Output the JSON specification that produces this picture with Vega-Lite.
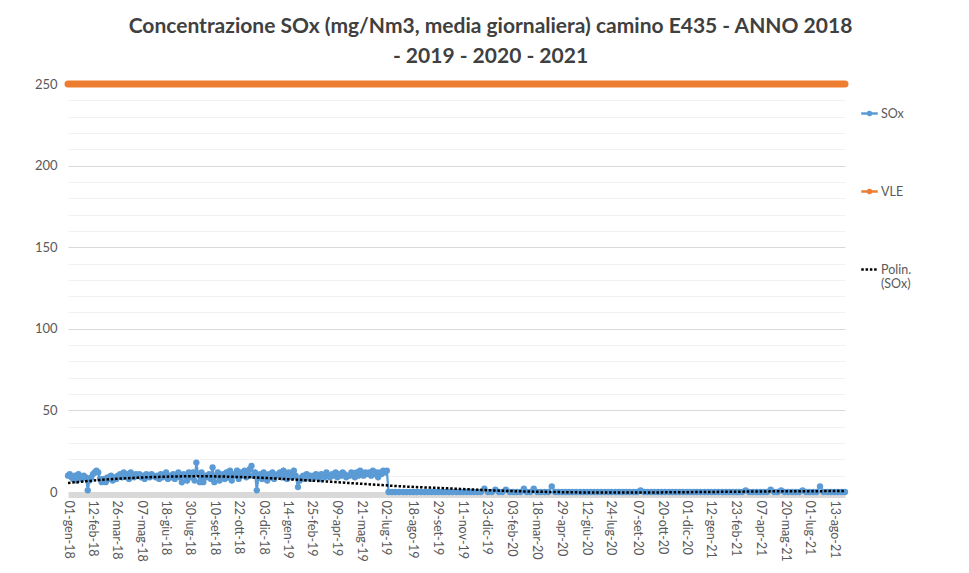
{
  "$schema": "https://vega.github.io/schema/vega-lite/v6.json",
  "width": 777,
  "height": 408,
  "autosize": {"type": "none"},
  "padding": {"left": 68, "top": 84, "right": 124, "bottom": 81},
  "background": "white",
  "title": {
    "text": ["Concentrazione SOx (mg/Nm3, media giornaliera) camino E435 - ANNO 2018", "- 2019 - 2020 - 2021"],
    "font": "Lato", "fontSize": 21, "fontWeight": "bold", "color": "#404040",
    "anchor": "middle", "offset": 3, "lineHeight": 30, "dx": 34
  },
  "config": {"view": {"stroke": null}},
  "datasets": {
    "vle": [{"d": "2018-01-01", "v": 250}, {"d": "2021-08-31", "v": 250}],
    "trend": [
      {"d": "2018-01-01", "v": 5.5}, {"d": "2018-02-01", "v": 6.6}, {"d": "2018-03-01", "v": 7.5}, {"d": "2018-04-01", "v": 8.2},
      {"d": "2018-05-01", "v": 8.8}, {"d": "2018-06-01", "v": 9.2}, {"d": "2018-07-01", "v": 9.5}, {"d": "2018-08-01", "v": 9.6},
      {"d": "2018-09-01", "v": 9.6}, {"d": "2018-10-01", "v": 9.4}, {"d": "2018-11-01", "v": 9.1}, {"d": "2018-12-01", "v": 8.7},
      {"d": "2019-01-01", "v": 8.1}, {"d": "2019-02-01", "v": 7.5}, {"d": "2019-03-01", "v": 6.9}, {"d": "2019-04-01", "v": 6.2},
      {"d": "2019-05-01", "v": 5.5}, {"d": "2019-06-01", "v": 4.8}, {"d": "2019-07-01", "v": 4.1}, {"d": "2019-08-01", "v": 3.4},
      {"d": "2019-09-01", "v": 2.9}, {"d": "2019-10-01", "v": 2.5}, {"d": "2019-11-01", "v": 2.0}, {"d": "2019-12-01", "v": 1.5},
      {"d": "2020-01-01", "v": 1.0}, {"d": "2020-02-01", "v": 0.6}, {"d": "2020-03-01", "v": 0.3}, {"d": "2020-04-01", "v": 0.1},
      {"d": "2020-05-01", "v": -0.1}, {"d": "2020-07-01", "v": -0.3}, {"d": "2020-09-01", "v": -0.3}, {"d": "2020-11-01", "v": -0.2},
      {"d": "2021-01-01", "v": 0.0}, {"d": "2021-03-01", "v": 0.2}, {"d": "2021-05-01", "v": 0.4}, {"d": "2021-07-01", "v": 0.5},
      {"d": "2021-08-31", "v": 0.6}
    ],
    "sox": [
      {"d":"2018-01-01","v":10},{"d":"2018-01-04","v":11},{"d":"2018-01-07","v":9},{"d":"2018-01-10","v":8},{"d":"2018-01-13","v":10},{"d":"2018-01-16","v":7},{"d":"2018-01-19","v":11},{"d":"2018-01-22","v":9},{"d":"2018-01-25","v":8},{"d":"2018-01-28","v":10},
      {"d":"2018-02-01","v":9},{"d":"2018-02-04","v":1},{"d":"2018-02-07","v":7},{"d":"2018-02-10","v":9},{"d":"2018-02-13","v":11},{"d":"2018-02-16","v":12},{"d":"2018-02-19","v":13},{"d":"2018-02-22","v":12},{"d":"2018-02-25","v":8},{"d":"2018-02-28","v":6},
      {"d":"2018-03-01","v":7},{"d":"2018-03-04","v":8},{"d":"2018-03-07","v":6},{"d":"2018-03-10","v":9},{"d":"2018-03-13","v":8},{"d":"2018-03-16","v":10},{"d":"2018-03-19","v":7},{"d":"2018-03-22","v":9},{"d":"2018-03-25","v":8},{"d":"2018-03-28","v":10},
      {"d":"2018-04-01","v":11},{"d":"2018-04-04","v":9},{"d":"2018-04-07","v":12},{"d":"2018-04-10","v":10},{"d":"2018-04-13","v":11},{"d":"2018-04-16","v":8},{"d":"2018-04-19","v":12},{"d":"2018-04-22","v":10},{"d":"2018-04-25","v":9},{"d":"2018-04-28","v":11},
      {"d":"2018-05-01","v":10},{"d":"2018-05-04","v":11},{"d":"2018-05-07","v":9},{"d":"2018-05-10","v":10},{"d":"2018-05-13","v":8},{"d":"2018-05-16","v":11},{"d":"2018-05-19","v":10},{"d":"2018-05-22","v":9},{"d":"2018-05-25","v":11},{"d":"2018-05-28","v":10},
      {"d":"2018-06-01","v":9},{"d":"2018-06-04","v":10},{"d":"2018-06-07","v":8},{"d":"2018-06-10","v":11},{"d":"2018-06-13","v":9},{"d":"2018-06-16","v":10},{"d":"2018-06-19","v":12},{"d":"2018-06-22","v":8},{"d":"2018-06-25","v":10},{"d":"2018-06-28","v":9},
      {"d":"2018-07-01","v":11},{"d":"2018-07-04","v":8},{"d":"2018-07-07","v":10},{"d":"2018-07-10","v":12},{"d":"2018-07-13","v":9},{"d":"2018-07-16","v":6},{"d":"2018-07-19","v":11},{"d":"2018-07-22","v":10},{"d":"2018-07-25","v":7},{"d":"2018-07-28","v":12},
      {"d":"2018-08-01","v":9},{"d":"2018-08-04","v":12},{"d":"2018-08-07","v":7},{"d":"2018-08-10","v":18},{"d":"2018-08-13","v":11},{"d":"2018-08-16","v":6},{"d":"2018-08-19","v":12},{"d":"2018-08-22","v":6},{"d":"2018-08-25","v":10},{"d":"2018-08-28","v":9},
      {"d":"2018-09-01","v":11},{"d":"2018-09-04","v":8},{"d":"2018-09-07","v":15},{"d":"2018-09-10","v":6},{"d":"2018-09-13","v":10},{"d":"2018-09-16","v":12},{"d":"2018-09-19","v":7},{"d":"2018-09-22","v":9},{"d":"2018-09-25","v":11},{"d":"2018-09-28","v":8},
      {"d":"2018-10-01","v":12},{"d":"2018-10-04","v":9},{"d":"2018-10-07","v":13},{"d":"2018-10-10","v":7},{"d":"2018-10-13","v":11},{"d":"2018-10-16","v":10},{"d":"2018-10-19","v":13},{"d":"2018-10-22","v":8},{"d":"2018-10-25","v":12},{"d":"2018-10-28","v":10},
      {"d":"2018-11-01","v":13},{"d":"2018-11-04","v":9},{"d":"2018-11-07","v":11},{"d":"2018-11-10","v":14},{"d":"2018-11-13","v":16},{"d":"2018-11-16","v":10},{"d":"2018-11-19","v":12},{"d":"2018-11-22","v":1},{"d":"2018-11-25","v":9},{"d":"2018-11-28","v":11},
      {"d":"2018-12-01","v":8},{"d":"2018-12-04","v":12},{"d":"2018-12-07","v":10},{"d":"2018-12-10","v":7},{"d":"2018-12-13","v":11},{"d":"2018-12-16","v":9},{"d":"2018-12-19","v":12},{"d":"2018-12-22","v":8},{"d":"2018-12-25","v":10},{"d":"2018-12-28","v":11},
      {"d":"2019-01-01","v":12},{"d":"2019-01-04","v":9},{"d":"2019-01-07","v":13},{"d":"2019-01-10","v":10},{"d":"2019-01-13","v":8},{"d":"2019-01-16","v":12},{"d":"2019-01-19","v":11},{"d":"2019-01-22","v":9},{"d":"2019-01-25","v":13},{"d":"2019-01-28","v":10},
      {"d":"2019-02-01","v":3},{"d":"2019-02-04","v":7},{"d":"2019-02-07","v":9},{"d":"2019-02-10","v":10},{"d":"2019-02-13","v":8},{"d":"2019-02-16","v":11},{"d":"2019-02-19","v":9},{"d":"2019-02-22","v":10},{"d":"2019-02-25","v":8},{"d":"2019-02-28","v":10},
      {"d":"2019-03-01","v":9},{"d":"2019-03-04","v":11},{"d":"2019-03-07","v":10},{"d":"2019-03-10","v":8},{"d":"2019-03-13","v":11},{"d":"2019-03-16","v":10},{"d":"2019-03-19","v":9},{"d":"2019-03-22","v":12},{"d":"2019-03-25","v":10},{"d":"2019-03-28","v":9},
      {"d":"2019-04-01","v":11},{"d":"2019-04-04","v":10},{"d":"2019-04-07","v":12},{"d":"2019-04-10","v":9},{"d":"2019-04-13","v":11},{"d":"2019-04-16","v":10},{"d":"2019-04-19","v":12},{"d":"2019-04-22","v":11},{"d":"2019-04-25","v":9},{"d":"2019-04-28","v":10},
      {"d":"2019-05-01","v":10},{"d":"2019-05-04","v":12},{"d":"2019-05-07","v":11},{"d":"2019-05-10","v":9},{"d":"2019-05-13","v":12},{"d":"2019-05-16","v":10},{"d":"2019-05-19","v":13},{"d":"2019-05-22","v":11},{"d":"2019-05-25","v":10},{"d":"2019-05-28","v":12},
      {"d":"2019-06-01","v":11},{"d":"2019-06-04","v":12},{"d":"2019-06-07","v":10},{"d":"2019-06-10","v":13},{"d":"2019-06-13","v":11},{"d":"2019-06-16","v":12},{"d":"2019-06-19","v":9},{"d":"2019-06-22","v":12},{"d":"2019-06-25","v":11},{"d":"2019-06-28","v":13},
      {"d":"2019-07-01","v":12},{"d":"2019-07-04","v":13},{"d":"2019-07-07","v":0},{"d":"2019-07-13","v":0},{"d":"2019-07-19","v":0},{"d":"2019-07-25","v":0},
      {"d":"2019-08-01","v":0},{"d":"2019-08-07","v":0},{"d":"2019-08-13","v":0},{"d":"2019-08-19","v":0},{"d":"2019-08-25","v":0},
      {"d":"2019-09-01","v":0},{"d":"2019-09-07","v":0},{"d":"2019-09-13","v":0},{"d":"2019-09-19","v":0},{"d":"2019-09-25","v":0},
      {"d":"2019-10-01","v":0},{"d":"2019-10-07","v":0},{"d":"2019-10-13","v":0},{"d":"2019-10-19","v":0},{"d":"2019-10-25","v":0},
      {"d":"2019-11-01","v":0},{"d":"2019-11-07","v":0},{"d":"2019-11-13","v":0},{"d":"2019-11-19","v":0},{"d":"2019-11-25","v":0},
      {"d":"2019-12-01","v":0},{"d":"2019-12-07","v":0},{"d":"2019-12-13","v":0},{"d":"2019-12-19","v":2},{"d":"2019-12-25","v":0},
      {"d":"2020-01-01","v":0},{"d":"2020-01-07","v":1.5},{"d":"2020-01-13","v":0},{"d":"2020-01-19","v":0},{"d":"2020-01-25","v":1.5},
      {"d":"2020-02-01","v":0},{"d":"2020-02-07","v":0},{"d":"2020-02-13","v":0},{"d":"2020-02-19","v":0},{"d":"2020-02-25","v":2},
      {"d":"2020-03-01","v":0},{"d":"2020-03-07","v":0},{"d":"2020-03-13","v":2},{"d":"2020-03-19","v":0},{"d":"2020-03-25","v":0},
      {"d":"2020-04-01","v":0},{"d":"2020-04-07","v":0},{"d":"2020-04-13","v":3.5},{"d":"2020-04-19","v":0},{"d":"2020-04-25","v":0},
      {"d":"2020-05-01","v":0},{"d":"2020-05-07","v":0},{"d":"2020-05-13","v":0},{"d":"2020-05-19","v":0},{"d":"2020-05-25","v":0},
      {"d":"2020-06-01","v":0},{"d":"2020-06-07","v":0},{"d":"2020-06-13","v":0},{"d":"2020-06-19","v":0},{"d":"2020-06-25","v":0},
      {"d":"2020-07-01","v":0},{"d":"2020-07-07","v":0},{"d":"2020-07-13","v":0},{"d":"2020-07-19","v":0},{"d":"2020-07-25","v":0},
      {"d":"2020-08-01","v":0},{"d":"2020-08-07","v":0},{"d":"2020-08-13","v":0},{"d":"2020-08-19","v":0},{"d":"2020-08-25","v":0},
      {"d":"2020-09-01","v":0},{"d":"2020-09-07","v":0},{"d":"2020-09-13","v":1},{"d":"2020-09-19","v":0},{"d":"2020-09-25","v":0},
      {"d":"2020-10-01","v":0},{"d":"2020-10-07","v":0},{"d":"2020-10-13","v":0},{"d":"2020-10-19","v":0},{"d":"2020-10-25","v":0},
      {"d":"2020-11-01","v":0},{"d":"2020-11-07","v":0},{"d":"2020-11-13","v":0},{"d":"2020-11-19","v":0},{"d":"2020-11-25","v":0},
      {"d":"2020-12-01","v":0},{"d":"2020-12-07","v":0},{"d":"2020-12-13","v":0},{"d":"2020-12-19","v":0},{"d":"2020-12-25","v":0},
      {"d":"2021-01-01","v":0},{"d":"2021-01-07","v":0},{"d":"2021-01-13","v":0},{"d":"2021-01-19","v":0},{"d":"2021-01-25","v":0},
      {"d":"2021-02-01","v":0},{"d":"2021-02-07","v":0},{"d":"2021-02-13","v":0},{"d":"2021-02-19","v":0},{"d":"2021-02-25","v":0},
      {"d":"2021-03-01","v":0},{"d":"2021-03-07","v":0},{"d":"2021-03-13","v":1},{"d":"2021-03-19","v":0},{"d":"2021-03-25","v":0},
      {"d":"2021-04-01","v":0},{"d":"2021-04-07","v":0},{"d":"2021-04-13","v":0},{"d":"2021-04-19","v":0},{"d":"2021-04-25","v":1.5},
      {"d":"2021-05-01","v":0},{"d":"2021-05-07","v":0},{"d":"2021-05-13","v":1},{"d":"2021-05-19","v":0},{"d":"2021-05-25","v":0},
      {"d":"2021-06-01","v":0},{"d":"2021-06-07","v":0},{"d":"2021-06-13","v":0},{"d":"2021-06-19","v":1},{"d":"2021-06-25","v":0},
      {"d":"2021-07-01","v":0},{"d":"2021-07-07","v":0},{"d":"2021-07-13","v":0},{"d":"2021-07-19","v":3.5},{"d":"2021-07-25","v":0},
      {"d":"2021-08-01","v":0},{"d":"2021-08-07","v":0},{"d":"2021-08-13","v":0},{"d":"2021-08-19","v":0},{"d":"2021-08-25","v":0},{"d":"2021-08-31","v":0}
    ]
  },
  "encoding": {
    "x": {
      "field": "d", "type": "temporal",
      "scale": {"nice": false},
      "axis": {
        "title": null, "grid": false, "ticks": false, "offset": 3, "zindex": 0,
        "domainColor": "#d9d9d9", "domainWidth": 5,
        "labelAngle": 90, "labelPadding": 5, "labelFont": "Lato", "labelFontSize": 12.5, "labelColor": "#595959",
        "labelOverlap": false, "labelFlush": false,
        "values": [
          {"year": 2018, "month": 1, "date": 1, "utc": true}, {"year": 2018, "month": 2, "date": 12, "utc": true},
          {"year": 2018, "month": 3, "date": 26, "utc": true}, {"year": 2018, "month": 5, "date": 7, "utc": true},
          {"year": 2018, "month": 6, "date": 18, "utc": true}, {"year": 2018, "month": 7, "date": 30, "utc": true},
          {"year": 2018, "month": 9, "date": 10, "utc": true}, {"year": 2018, "month": 10, "date": 22, "utc": true},
          {"year": 2018, "month": 12, "date": 3, "utc": true}, {"year": 2019, "month": 1, "date": 14, "utc": true},
          {"year": 2019, "month": 2, "date": 25, "utc": true}, {"year": 2019, "month": 4, "date": 9, "utc": true},
          {"year": 2019, "month": 5, "date": 21, "utc": true}, {"year": 2019, "month": 7, "date": 2, "utc": true},
          {"year": 2019, "month": 8, "date": 18, "utc": true}, {"year": 2019, "month": 9, "date": 29, "utc": true},
          {"year": 2019, "month": 11, "date": 11, "utc": true}, {"year": 2019, "month": 12, "date": 23, "utc": true},
          {"year": 2020, "month": 2, "date": 3, "utc": true}, {"year": 2020, "month": 3, "date": 18, "utc": true},
          {"year": 2020, "month": 4, "date": 29, "utc": true}, {"year": 2020, "month": 6, "date": 12, "utc": true},
          {"year": 2020, "month": 7, "date": 24, "utc": true}, {"year": 2020, "month": 9, "date": 7, "utc": true},
          {"year": 2020, "month": 10, "date": 20, "utc": true}, {"year": 2020, "month": 12, "date": 1, "utc": true},
          {"year": 2021, "month": 1, "date": 12, "utc": true}, {"year": 2021, "month": 2, "date": 23, "utc": true},
          {"year": 2021, "month": 4, "date": 7, "utc": true}, {"year": 2021, "month": 5, "date": 20, "utc": true},
          {"year": 2021, "month": 7, "date": 1, "utc": true}, {"year": 2021, "month": 8, "date": 13, "utc": true}
        ],
        "labelExpr": "utcFormat(datum.value, '%d') + '-' + ['gen','feb','mar','apr','mag','giu','lug','ago','set','ott','nov','dic'][utcmonth(datum.value)] + '-' + utcFormat(datum.value, '%y')"
      }
    },
    "y": {
      "field": "v", "type": "quantitative",
      "scale": {"domain": [0, 250], "nice": false, "zero": true},
      "axis": {
        "title": null, "ticks": false, "domain": false,
        "values": [0,10,20,30,40,50,60,70,80,90,100,110,120,130,140,150,160,170,180,190,200,210,220,230,240,250],
        "labelExpr": "datum.value % 50 === 0 ? datum.label : ''",
        "gridColor": {"condition": {"test": "datum.value % 50 === 0", "value": "#d9d9d9"}, "value": "#f2f2f2"},
        "gridWidth": 1,
        "labelPadding": 11, "labelFont": "Lato", "labelFontSize": 13, "labelColor": "#595959"
      }
    }
  },
  "layer": [
    {
      "data": {"name": "vle"},
      "mark": {"type": "line", "strokeWidth": 7, "strokeCap": "round", "clip": false},
      "encoding": {
        "color": {
          "datum": "VLE",
          "scale": {"domain": ["SOx", "VLE", "Polin. (SOx)"], "range": ["#5B9BD5", "#ED7D31", "#000000"]},
          "legend": {
            "title": null, "orient": "none", "legendX": 792, "legendY": 20,
            "rowPadding": 61, "symbolSize": 272, "symbolStrokeWidth": 2.5,
            "labelFont": "Lato", "labelFontSize": 12.5, "labelColor": "#595959", "labelOffset": 2,
            "labelExpr": "datum.label === 'Polin. (SOx)' ? ['Polin.', '(SOx)'] : datum.label",
            "encode": {
              "symbols": {
                "update": {
                  "shape": {"signal": "datum.value === 'Polin. (SOx)' ? 'M-1,0L1,0' : 'M-1,0L1,0M-0.19,0A0.19,0.19 0 1,0 0.19,0A0.19,0.19 0 1,0 -0.19,0'"},
                  "stroke": {"scale": "color", "field": "value"},
                  "fill": {"scale": "color", "field": "value"},
                  "strokeDash": {"signal": "datum.value === 'Polin. (SOx)' ? [2.5, 1.8] : [1, 0]"},
                  "strokeWidth": {"value": 2.5},
                  "opacity": {"value": 1},
                  "fillOpacity": {"value": 1}
                }
              }
            }
          }
        }
      }
    },
    {
      "data": {"name": "sox"},
      "mark": {"type": "line", "strokeWidth": 2.25},
      "encoding": {"color": {"datum": "SOx"}}
    },
    {
      "data": {"name": "sox"},
      "mark": {"type": "circle", "size": 40, "opacity": 1},
      "encoding": {"color": {"datum": "SOx"}}
    },
    {
      "data": {"name": "trend"},
      "mark": {"type": "line", "strokeWidth": 2.5, "strokeDash": [2.5, 1.8], "interpolate": "monotone"},
      "encoding": {"color": {"datum": "Polin. (SOx)"}}
    }
  ]
}
